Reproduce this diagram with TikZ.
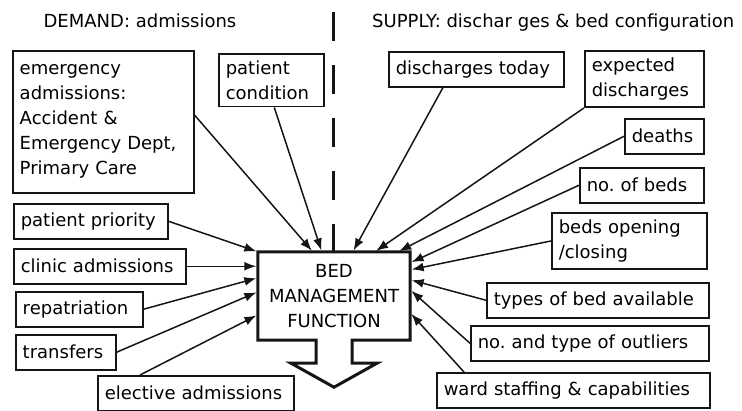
\documentclass[tikz,border=0pt]{standalone}
\usepackage{fontspec}
\setmainfont{DejaVu Sans}
\usepackage{tikz}
\usetikzlibrary{positioning,arrows.meta,calc,backgrounds}
\definecolor{boxDraw}{HTML}{151515}
\definecolor{arrowCol}{HTML}{151515}
\frenchspacing

\begin{document}
\begin{tikzpicture}[
  x=1pt, y=-1pt,
  font=\fontsize{18}{25}\selectfont,
  box/.style={draw=boxDraw, line width=1.5pt, anchor=north west, align=left,
              inner xsep=7pt, inner ysep=7pt, minimum height=35pt},
  bmfbox/.style={align=center, minimum width=152pt, minimum height=88pt, inner sep=0pt},
  bigout/.style={draw=boxDraw, line width=3pt, fill=white, line join=miter},
  divider/.style={draw=boxDraw, line width=3pt, dash pattern=on 29pt off 24pt},
  flow/.style={-{Latex[length=12pt,width=9pt]}, line width=1.5pt, draw=arrowCol,
               shorten >=1.5pt},
  heading/.style={inner sep=0pt},
]
\useasboundingbox (0,0) rectangle (742,410);

% ---- Headings ----
\node[heading, anchor=base] (demand) at (140,27) {DEMAND: admissions};
\node[heading, anchor=base west] (supply) at (372,27) {SUPPLY: dischar ges \& bed configuration};

% ---- Central function ----
\node[bmfbox] (bmf) at (334,296) {BED\\MANAGEMENT\\FUNCTION};

% ---- Demand side ----
\node[box, text width=167pt, minimum height=142pt] (emerg) at (12,50)
      {emergency\\admissions:\\Accident \&\\Emergency Dept,\\Primary Care};
\node[box, text width=91pt]  (cond)   at (218,53)  {patient\\condition};
\node[box, text width=140pt] (prio)   at (13,203)  {patient priority};
\node[box, text width=158pt] (clinic) at (13,248)  {clinic admissions};
\node[box, text width=113pt] (repat)  at (15,291)  {repatriation};
\node[box, text width=86pt]  (transf) at (15,334)  {transfers};
\node[box, text width=182pt] (elect)  at (97,375)  {elective admissions};

% ---- Supply side ----
\node[box, text width=161pt] (dtoday) at (388,51)  {discharges today};
\node[box, text width=105pt] (expdis) at (584,50)  {expected\\discharges};
\node[box, text width=65pt]  (deaths) at (624,118) {deaths};
\node[box, text width=110pt] (nbeds)  at (579,167) {no. of beds};
\node[box, text width=141pt] (bopen)  at (551,212) {beds opening\\/closing};
\node[box, text width=208pt] (types)  at (486,282) {types of bed available};
\node[box, text width=224pt] (outl)   at (470,325) {no. and type of outliers};
\node[box, text width=259pt] (ward)   at (436,372) {ward staffing \& capabilities};

% ---- Divider between demand and supply ----
\coordinate (divtop) at (333,12);
\draw[divider] (divtop) -- (divtop |- bmf.north);

% ---- Box with output arrow ----
\begin{scope}[on background layer]
  \draw[bigout] (bmf.north west) -- (bmf.north east) -- (bmf.south east)
    -- ($(bmf.south)+(18,0)$) -- ($(bmf.south)+(18,23)$) -- ($(bmf.south)+(43,23)$)
    -- ($(bmf.south)+(0,47)$) -- ($(bmf.south)+(-43,23)$) -- ($(bmf.south)+(-18,23)$)
    -- ($(bmf.south)+(-18,0)$) -- (bmf.south west) -- cycle;
\end{scope}

% ---- Demand arrows ----
\draw[flow] ([yshift=-65pt]emerg.north east) -- ([xshift=55pt]bmf.north west);
\draw[flow] ([xshift=3pt]cond.south)         -- ([xshift=64pt]bmf.north west);
\draw[flow] (prio.east)                      -- (bmf.north west);
\draw[flow] (clinic.east)                    -- (clinic.east -| bmf.west);
\draw[flow] (repat.east)                     -- ([yshift=-26pt]bmf.north west);
\draw[flow] (transf.east)                    -- ([yshift=-40pt]bmf.north west);
\draw[flow] ([xshift=43pt]elect.north west)  -- ([yshift=-63pt]bmf.north west);

% ---- Supply arrows ----
\draw[flow] ([xshift=55pt]dtoday.south west) -- ([xshift=95pt]bmf.north west);
\draw[flow] (expdis.south west)              -- ([xshift=117pt]bmf.north west);
\draw[flow] (deaths.west)                    -- ([xshift=140pt]bmf.north west);
\draw[flow] (nbeds.west)                     -- ([yshift=-11pt]bmf.north east);
\draw[flow] (bopen.west)                     -- ([yshift=-18pt]bmf.north east);
\draw[flow] (types.west)                     -- ([yshift=-28pt]bmf.north east);
\draw[flow] (outl.west)                      -- ([yshift=-38pt]bmf.north east);
\draw[flow] ([xshift=28pt]ward.north west)   -- ([yshift=-61pt]bmf.north east);

\end{tikzpicture}
\end{document}
